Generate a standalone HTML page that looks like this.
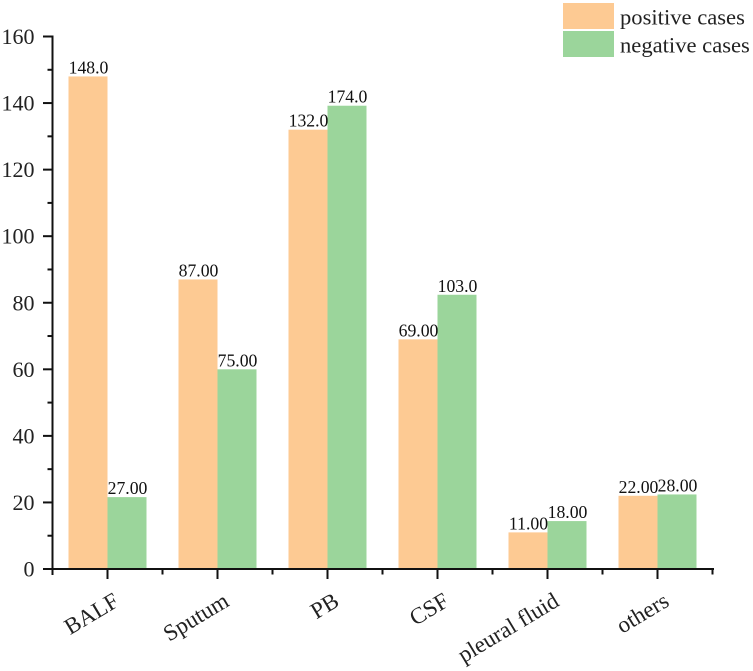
<!DOCTYPE html>
<html lang="en">
<head>
<meta charset="utf-8">
<title>Positive and negative cases by specimen type</title>
<style>
  html, body { margin: 0; padding: 0; background: #fff; }
  body { width: 753px; height: 671px; overflow: hidden; }
  svg { display: block; font-family: "Liberation Serif", serif; }
</style>
</head>
<body>
<svg id="chart" width="753" height="671" viewBox="0 0 753 671" xmlns="http://www.w3.org/2000/svg"></svg>
<script>
const categories = ["BALF", "Sputum", "PB", "CSF", "pleural fluid", "others"];
const positiveValues = [148, 87, 132, 69, 11, 22];
const negativeValues = [27, 75, 174, 103, 18, 28];
const yTickValues = [0, 20, 40, 60, 80, 100, 120, 140, 160];
const yMinorTickValues = [10, 30, 50, 70, 90, 110, 130, 150];
const legendLabels = ["positive cases", "negative cases"];
// The source figure draws the negative series at 0.8 of its printed value.
const negativeDrawScale = 0.8;

const NS = "http://www.w3.org/2000/svg";
const svg = document.getElementById("chart");
const plot = { left: 52.5, right: 713, top: 36.5, bottom: 569 };
const yMax = 160;
const bandWidth = 110;
const barWidth = 39;
const ORANGE = "#fdca93";
const GREEN = "#9bd59b";
const INK = "#111";

function yScale(v) { return plot.bottom - (v / yMax) * (plot.bottom - plot.top); }
function xCenter(i) { return plot.left + bandWidth * (i + 0.5); }
function fmt(v) { return Number(v).toPrecision(4); }

function el(tag, attrs, text) {
  const node = document.createElementNS(NS, tag);
  for (const k in attrs) node.setAttribute(k, attrs[k]);
  if (text !== undefined) node.textContent = text;
  svg.appendChild(node);
  return node;
}

// Bars and value labels
categories.forEach(function (cat, i) {
  const cx = xCenter(i);
  const key = cat.toLowerCase().replace(/\s+/g, "-");

  const yP = yScale(positiveValues[i]);
  const barP = el("rect", { x: cx - barWidth, y: yP, width: barWidth, height: plot.bottom - yP, fill: ORANGE });
  
  

  const yN = yScale(negativeValues[i] * negativeDrawScale);
  const barN = el("rect", { x: cx, y: yN, width: barWidth, height: plot.bottom - yN, fill: GREEN });
  
  

  const labP = el("text", { x: cx - barWidth / 2 + 0.5, y: yP - 3, "text-anchor": "middle", "font-size": "17.7", fill: INK }, fmt(positiveValues[i]));
  
  

  const labN = el("text", { x: cx + barWidth / 2 + 0.5, y: yN - 3, "text-anchor": "middle", "font-size": "17.7", fill: INK }, fmt(negativeValues[i]));
  
  
});

// Y axis
const yAxis = el("line", { x1: plot.left, x2: plot.left, y1: plot.top - 1, y2: plot.bottom + 6, stroke: INK, "stroke-width": 2 });



yTickValues.forEach(function (v) {
  const y = yScale(v);
  const tick = el("line", { x1: 43, x2: plot.left, y1: y, y2: y, stroke: INK, "stroke-width": 2 });
  
  
  const label = el("text", { x: 34.5, y: y + 7.5, "text-anchor": "end", "font-size": "22", fill: "#222" }, String(v));
  
  
});

yMinorTickValues.forEach(function (v) {
  const y = yScale(v);
  const tick = el("line", { x1: 47.5, x2: plot.left, y1: y, y2: y, stroke: INK, "stroke-width": 2 });
  
  
});

// X axis
const xAxis = el("line", { x1: 43, x2: plot.right + 1, y1: plot.bottom, y2: plot.bottom, stroke: INK, "stroke-width": 2 });



categories.forEach(function (cat, i) {
  const cx = xCenter(i);
  const key = cat.toLowerCase().replace(/\s+/g, "-");

  const tick = el("line", { x1: cx, x2: cx, y1: plot.bottom, y2: 579, stroke: INK, "stroke-width": 2 });
  
  

  const minor = el("line", { x1: cx + bandWidth / 2, x2: cx + bandWidth / 2, y1: plot.bottom, y2: 574.5, stroke: INK, "stroke-width": 2 });
  
  

  const ax = cx + 13;
  const ay = 605;
  const label = el("text", { x: ax, y: ay, "text-anchor": "end", "font-size": "23", fill: "#222", transform: "rotate(-31 " + ax + " " + ay + ")" }, cat);
  
  
});

// Legend
legendLabels.forEach(function (text, i) {
  const top = 3 + i * 28;
  const swatch = el("rect", { x: 563, y: top, width: 51, height: 26, fill: i === 0 ? ORANGE : GREEN });
  
  
  const label = el("text", { x: 620, y: top + 21.5, "font-size": "22.6", fill: "#222" }, text);
  
  
});
</script>
</body>
</html>
